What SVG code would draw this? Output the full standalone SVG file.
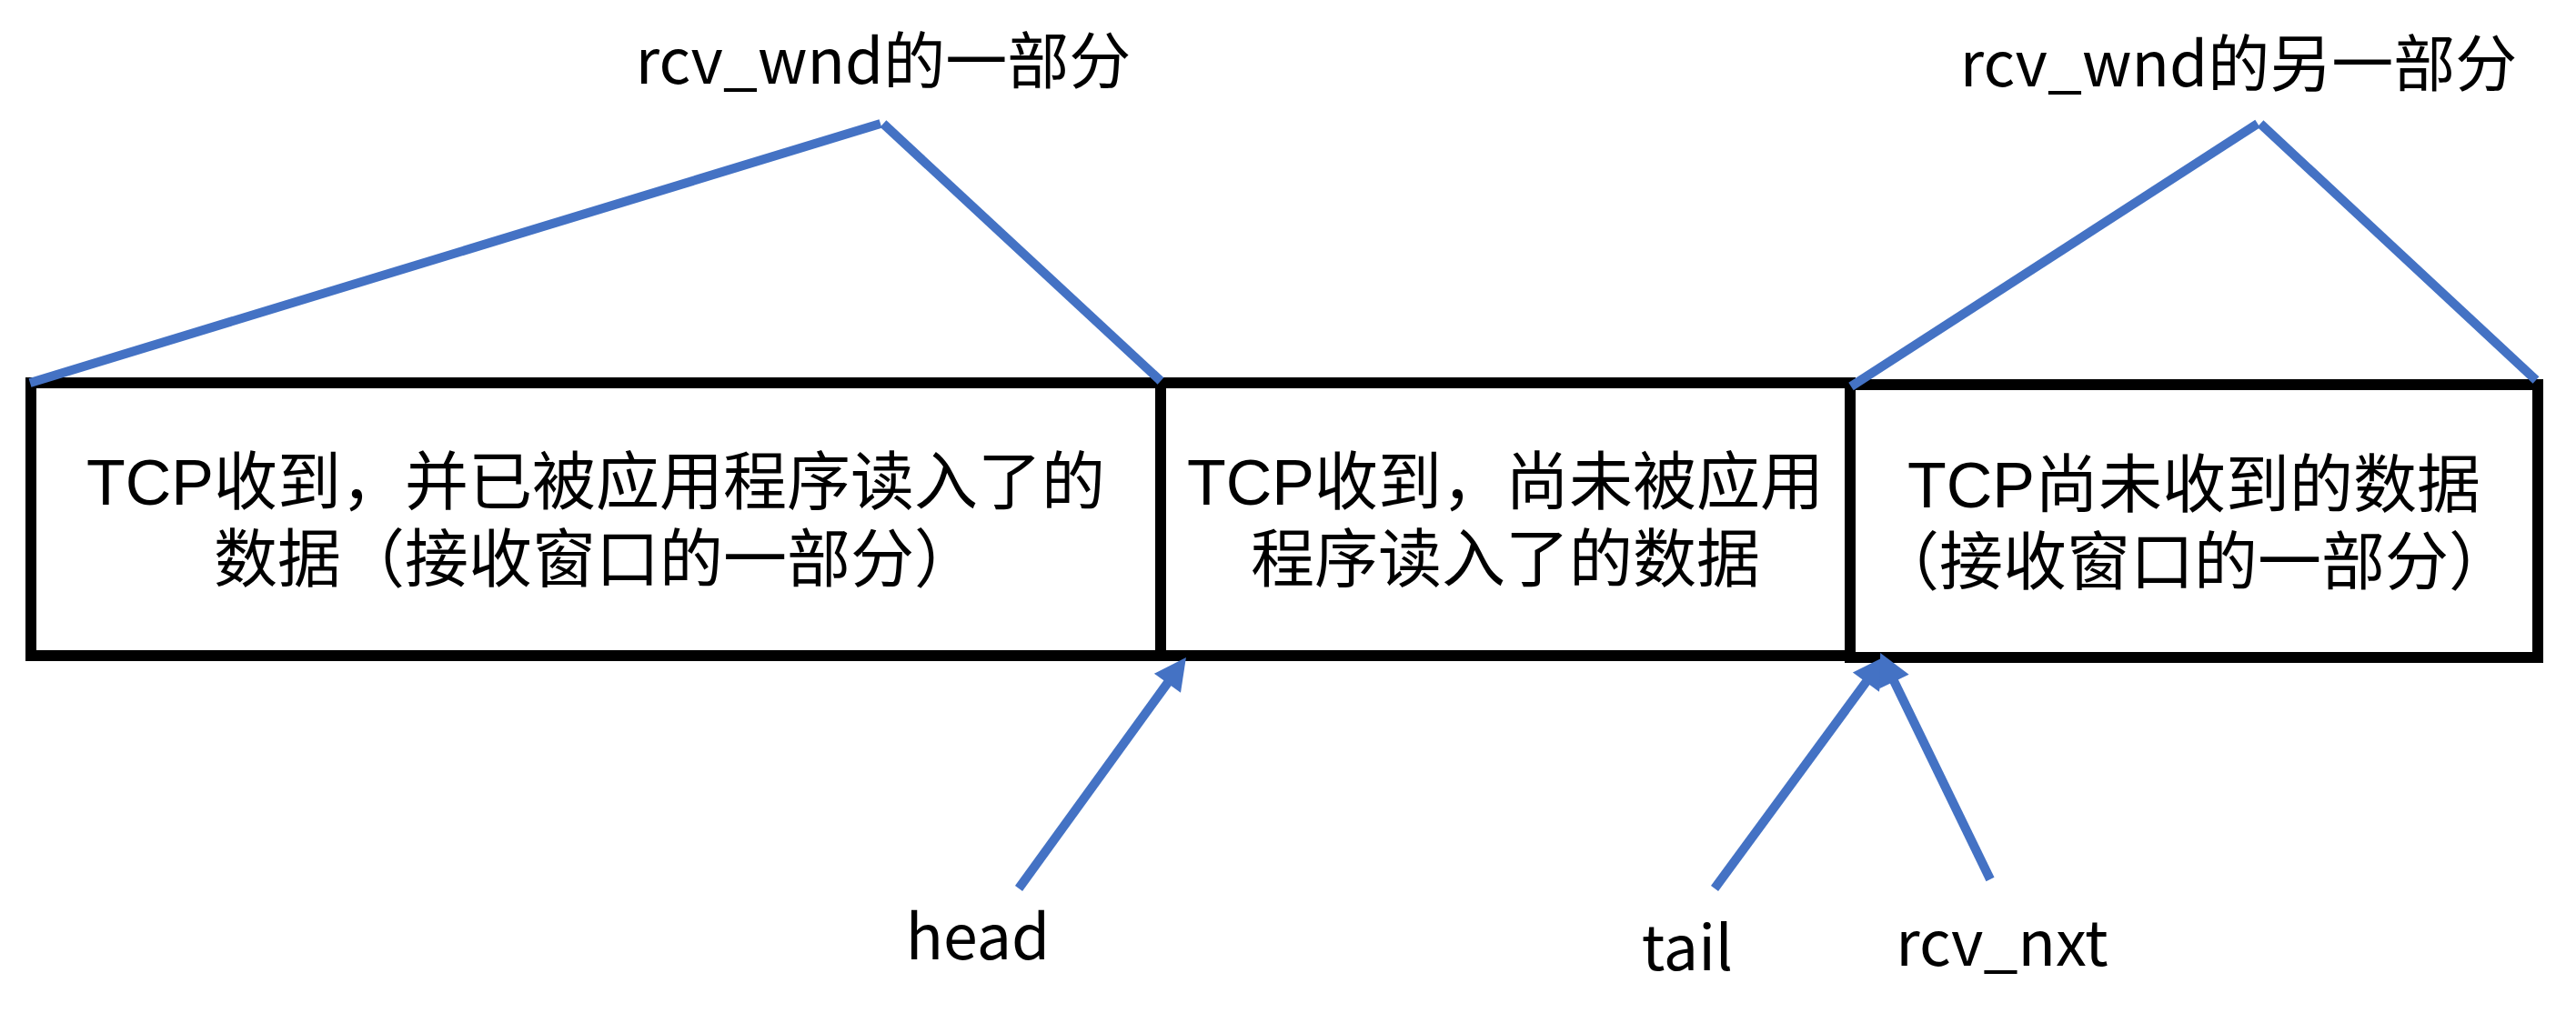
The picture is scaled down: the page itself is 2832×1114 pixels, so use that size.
<svg xmlns="http://www.w3.org/2000/svg" width="2832" height="1114" viewBox="0 0 2832 1114">
  <style>
    .box { fill: #ffffff; stroke: #000000; stroke-width: 12; }
    .t { font-family: "Noto Sans CJK SC", "Noto Sans", sans-serif; fill: #000000; text-anchor: middle; }
    .body { font-family: "Liberation Sans", "Noto Sans CJK SC", sans-serif; font-size: 70px; }
    .lbl { font-size: 68px; }
    .top { font-size: 68px; }
    .blue { stroke: #4472C4; stroke-width: 10; fill: none; stroke-linecap: butt; }
  </style>
  <defs>
    <marker id="arrow" markerUnits="userSpaceOnUse" markerWidth="36" markerHeight="36" viewBox="0 0 35 36" refX="1" refY="18" orient="auto" overflow="visible">
      <path d="M0,0 L35,18 L0,36 Z" fill="#4472C4"/>
    </marker>
  </defs>
  <rect width="2832" height="1114" fill="#ffffff"/>

  <g id="box1">
    <rect class="box" x="34" y="421" width="1242" height="300"/>
    <text class="t body"><tspan x="655" y="555">TCP收到，并已被应用程序读入了的</tspan><tspan x="655" y="640">数据（接收窗口的一部分）</tspan></text>
  </g>
  <g id="box2">
    <rect class="box" x="1276" y="421" width="758" height="300"/>
    <text class="t body"><tspan x="1655" y="555">TCP收到，尚未被应用</tspan><tspan x="1655" y="640">程序读入了的数据</tspan></text>
  </g>
  <g id="box3">
    <rect class="box" x="2034" y="423" width="756" height="300"/>
    <text class="t body"><tspan x="2412" y="558">TCP尚未收到的数据</tspan><tspan x="2412" y="643">（接收窗口的一部分）</tspan></text>
  </g>

  <g id="label-wnd1">
    <text class="t top" x="971" y="92">rcv_wnd的一部分</text>
  </g>
  <g id="label-wnd2">
    <text class="t top" x="2461" y="95">rcv_wnd的另一部分</text>
  </g>
  <g id="label-head">
    <text class="t lbl" x="1075" y="1055">head</text>
  </g>
  <g id="label-tail">
    <text class="t lbl" x="1855" y="1067">tail</text>
  </g>
  <g id="label-rcvnxt">
    <text class="t lbl" x="2201" y="1062">rcv_nxt</text>
  </g>

  <g id="connectors">
    <line class="blue" x1="33" y1="421" x2="968" y2="136"/>
    <line class="blue" x1="971" y1="136" x2="1276" y2="419"/>
    <line class="blue" x1="2035" y1="425" x2="2482" y2="136"/>
    <line class="blue" x1="2485" y1="136" x2="2788" y2="418"/>
    <line class="blue" x1="1120" y1="977" x2="1284" y2="750.5" marker-end="url(#arrow)"/>
    <line class="blue" x1="1885" y1="977" x2="2052" y2="749.4" marker-end="url(#arrow)"/>
    <line class="blue" x1="2188" y1="967" x2="2082" y2="748.6" marker-end="url(#arrow)"/>
  </g>
</svg>
